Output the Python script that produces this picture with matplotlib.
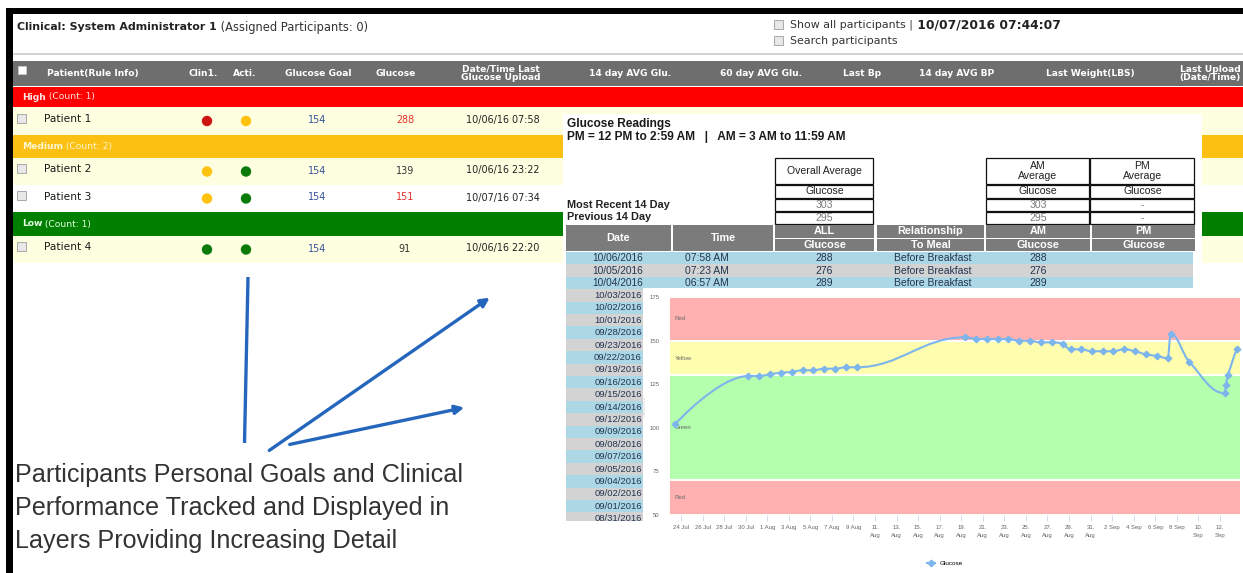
import matplotlib
matplotlib.use("Agg")
import matplotlib.pyplot as plt
import matplotlib.dates as mdates
from matplotlib.patches import Rectangle, Circle, FancyArrowPatch, PathPatch
from matplotlib.path import Path
from matplotlib.lines import Line2D
import pandas as pd

# ---------------- data ----------------
title_bold = "Clinical: System Administrator 1"
title_rest = "(Assigned Participants: 0)"
show_all_text = "Show all participants |"
search_text = "Search participants"
timestamp = "10/07/2016 07:44:07"

col_labels = ["Patient(Rule Info)", "Clin1.", "Acti.", "Glucose Goal", "Glucose",
              "Date/Time Last\nGlucose Upload", "14 day AVG Glu.", "60 day AVG Glu.",
              "Last Bp", "14 day AVG BP", "Last Weight(LBS)", "Last Upload\n(Date/Time)"]
groups = ["High", "Medium", "Low"]
group_counts = [1, 2, 1]
patients = ["Patient 1", "Patient 2", "Patient 3", "Patient 4"]
clin1_status = ["red", "yellow", "yellow", "green"]
acti_status = ["yellow", "green", "green", "green"]
glucose_goal = [154, 154, 154, 154]
glucose_last = [288, 139, 151, 91]
glucose_alert = [True, False, True, False]
last_upload = ["10/06/16 07:58", "10/06/16 23:22", "10/07/16 07:34", "10/06/16 22:20"]

popup_title = "Glucose Readings"
popup_sub = "PM = 12 PM to 2:59 AM   |   AM = 3 AM to 11:59 AM"
summary_rows = ["Most Recent 14 Day", "Previous 14 Day"]
overall_avg = ["303", "295"]
am_avg = ["303", "295"]
pm_avg = ["-", "-"]

reading_dates = ["10/06/2016", "10/05/2016", "10/04/2016", "10/03/2016", "10/02/2016",
                 "10/01/2016", "09/28/2016", "09/23/2016", "09/22/2016", "09/19/2016",
                 "09/16/2016", "09/15/2016", "09/14/2016", "09/12/2016", "09/09/2016",
                 "09/08/2016", "09/07/2016", "09/05/2016", "09/04/2016", "09/02/2016",
                 "09/01/2016", "08/31/2016"]
reading_times = ["07:58 AM", "07:23 AM", "06:57 AM"]
reading_glucose = ["288", "276", "289"]
reading_relation = ["Before Breakfast", "Before Breakfast", "Before Breakfast"]
reading_am = ["288", "276", "289"]

chart_times = ["2016-07-23 10:30", "2016-07-30 06:00", "2016-07-31 06:00", "2016-08-01 06:15",
               "2016-08-02 06:00", "2016-08-03 06:30", "2016-08-04 07:00", "2016-08-05 06:30",
               "2016-08-06 07:00", "2016-08-07 07:00", "2016-08-08 07:30", "2016-08-09 07:10",
               "2016-08-19 08:20", "2016-08-20 08:50", "2016-08-21 08:40", "2016-08-22 09:05",
               "2016-08-23 08:40", "2016-08-24 09:05", "2016-08-25 08:50", "2016-08-26 09:35",
               "2016-08-27 09:20", "2016-08-28 09:50", "2016-08-29 03:35", "2016-08-30 02:25",
               "2016-08-31 02:25", "2016-09-01 02:55", "2016-09-02 02:25", "2016-09-03 02:55",
               "2016-09-04 02:55", "2016-09-05 03:20", "2016-09-06 03:50", "2016-09-07 03:35",
               "2016-09-07 10:20", "2016-09-09 03:35", "2016-09-12 11:00", "2016-09-12 13:25",
               "2016-09-12 17:45", "2016-09-13 13:10"]
chart_glucose = [102.0, 129.7, 129.7, 130.7, 131.6, 132.0, 133.0, 133.0, 133.9, 133.9, 134.7,
                 134.7, 151.9, 150.9, 150.9, 150.9, 150.9, 149.9, 149.9, 149.0, 149.0, 148.1,
                 145.0, 145.0, 143.9, 143.9, 143.9, 145.0, 143.9, 142.1, 141.2, 139.9, 153.8,
                 137.9, 119.8, 124.5, 130.3, 145.0]
band_low = [150, 130, 70, 50]
band_high = [175, 150, 130, 70]
band_names = ["Red", "Yellow", "Green", "Red"]
y_ticks = [50, 75, 100, 125, 150, 175]
x_tick_dates = pd.date_range("2016-07-24", "2016-09-12", freq="2D")
x_tick_labels = ["24 Jul", "26 Jul", "28 Jul", "30 Jul", "1 Aug", "3 Aug", "5 Aug", "7 Aug",
                 "9 Aug", "11.\nAug", "13.\nAug", "15.\nAug", "17.\nAug", "19.\nAug",
                 "21.\nAug", "23.\nAug", "25.\nAug", "27.\nAug", "29.\nAug", "31.\nAug",
                 "2 Sep", "4 Sep", "6 Sep", "8 Sep", "10.\nSep", "12.\nSep"]
x_range = ["2016-07-22 21:20", "2016-09-13 22:50"]
series_name = "Glucose"

caption_lines = ["Participants Personal Goals and Clinical",
                 "Performance Tracked and Displayed in",
                 "Layers Providing Increasing Detail"]

# ---------------- styles ----------------
W, H = 1243, 573
status_colors = {"red": "#cf1212", "yellow": "#ffc30f", "green": "#0a7a0a"}
group_colors = ["#fe0000", "#fcc012", "#007f00"]
group_text = ["#ffe2e2", "#fff6d2", "#e6ffe6"]
row_colors = ["#fefee0", "#fefee0", "#ffffff", "#fefee0"]
band_colors = ["#ffb1b1", "#fffdae", "#b3ffae", "#ffb1b1"]
UI = "DejaVu Sans"
ARIAL = "Liberation Sans"

fig = plt.figure(figsize=(W / 100, H / 100), dpi=100)
ax = fig.add_axes([0, 0, 1, 1])
ax.set_xlim(0, W)
ax.set_ylim(H, 0)
ax.axis("off")


def rect(x0, y0, x1, y1, fc, ec="none", lw=0, z=1):
    ax.add_patch(Rectangle((x0, y0), x1 - x0, y1 - y0, facecolor=fc, edgecolor=ec,
                           linewidth=lw, zorder=z))


def checkbox(x, y, z=3, fc="#e8e8e8"):
    ax.add_patch(Rectangle((x - 4.5, y - 4.5), 9, 9, facecolor=fc, edgecolor="#a8a8a8",
                           linewidth=0.7, zorder=z))


# ---- top bar ----
t = ax.text(17, 27, title_bold, fontsize=7.9, fontweight="bold", family=UI, color="#222222",
            va="center", ha="left")
ax.annotate(" " + title_rest, xycoords=t, xy=(1, 0.5), va="center", fontsize=8.3, family=UI,
            color="#333333")
checkbox(779, 24)
checkbox(779, 40)
t = ax.text(790, 25, show_all_text, fontsize=7.9, family=UI, color="#333333", va="center")
ax.annotate(" " + timestamp, xycoords=t, xy=(1, 0.5), va="center", fontsize=8.8, family=UI,
            fontweight="bold", color="#222222")
ax.text(790, 41, search_text, fontsize=7.9, family=UI, color="#333333", va="center")
rect(13, 52.5, W, 55, "#d4d4d4")

# ---- header ----
rect(13, 61, W, 86, "#6e6e6e")
ax.add_patch(Rectangle((18, 66), 8, 8, facecolor="white", edgecolor="#cccccc", lw=0.5, zorder=3))
col_x = [93, 203, 245, 318, 396, 501, 630, 761, 862, 957, 1090, 1210]
for cx, lab in zip(col_x, col_labels):
    ax.text(cx, 73.5, lab, fontsize=6.6, fontweight="bold", family=UI, color="white",
            ha="center", va="center", linespacing=0.95, zorder=3)

# ---- groups and rows ----
group_spans = [(87, 107), (135, 158), (212, 236)]
row_spans = [(107, 135), (158, 185), (185, 212), (236, 263)]
for gi, (y0, y1) in enumerate(group_spans):
    rect(13, y0, W, y1, group_colors[gi])
    yc = (y0 + y1) / 2
    t = ax.text(22, yc, groups[gi], fontsize=6.6, fontweight="bold", family=UI,
                color=group_text[gi], va="center", zorder=3)
    ax.annotate(f" (Count: {group_counts[gi]})", xycoords=t, xy=(1, 0.5), va="center",
                fontsize=6.6, family=UI, color=group_text[gi], zorder=3)

for i, (y0, y1) in enumerate(row_spans):
    rect(13, y0, W, y1, row_colors[i])
    yc = (y0 + y1) / 2 - 2
    checkbox(22, yc - 1)
    ax.text(44, yc, patients[i], fontsize=7.7, family=UI, color="#1a1a1a", va="center")
    for cx, st in ((207, clin1_status[i]), (246, acti_status[i])):
        ax.add_patch(Circle((cx, yc + 2), 5.2, facecolor=status_colors[st],
                            edgecolor="none", zorder=3))
    ax.text(317, yc + 1, str(glucose_goal[i]), fontsize=6.9, family=UI, color="#35509a",
            ha="center", va="center")
    ax.text(405, yc + 1, str(glucose_last[i]), fontsize=6.9, family=UI,
            color="#e8302a" if glucose_alert[i] else "#333333", ha="center", va="center")
    ax.text(503, yc + 1, last_upload[i], fontsize=6.9, family=UI, color="#222222",
            ha="center", va="center")

# ---- popup ----
rect(563, 114, 1202, 289, "white", z=4)
ax.text(567, 124, popup_title, fontsize=8.6, fontweight="bold", family=ARIAL,
        color="#1a1a1a", va="center", zorder=6)
ax.text(567, 137, popup_sub, fontsize=8.6, fontweight="bold", family=ARIAL,
        color="#1a1a1a", va="center", zorder=6)

box_cols = [(775, 874), (986, 1090), (1090, 1195)]
box_heads = ["Overall Average", "AM\nAverage", "PM\nAverage"]
box_rows = [(157, 184), (184, 198), (198, 211), (211, 224)]
box_vals = [overall_avg, am_avg, pm_avg]
for (x0, x1), head, vals in zip(box_cols, box_heads, box_vals):
    for ri, (y0, y1) in enumerate(box_rows):
        rect(x0 + 0.5, y0 + 0.5, x1 - 0.5, y1 - 0.5, "white", ec="#111111", lw=0.9, z=5)
        if ri == 0:
            txt, col = head, "#222222"
        elif ri == 1:
            txt, col = "Glucose", "#222222"
        else:
            txt, col = vals[ri - 2], "#7a7a7a"
        ax.text((x0 + x1) / 2, (y0 + y1) / 2 + 0.5, txt, fontsize=7.6, family=ARIAL, color=col,
                ha="center", va="center", linespacing=0.9, zorder=6)
for ri, lab in enumerate(summary_rows):
    y0, y1 = box_rows[ri + 2]
    ax.text(567, (y0 + y1) / 2, lab, fontsize=7.8, fontweight="bold", family=ARIAL,
            color="#222222", va="center", zorder=6)

# gray header of readings table
hdr_cols = [(566, 671), (673, 773), (775, 874), (877, 984), (986, 1090), (1092, 1195)]
hdr_top = ["Date", "Time", "ALL", "Relationship", "AM", "PM"]
hdr_bot = [None, None, "Glucose", "To Meal", "Glucose", "Glucose"]
for (x0, x1), t1, t2 in zip(hdr_cols, hdr_top, hdr_bot):
    cxm = (x0 + x1) / 2
    if t2 is None:
        rect(x0, 225, x1, 251, "#7b7b7b", z=5)
        ax.text(cxm, 238, t1, fontsize=7.8, fontweight="bold", family=ARIAL, color="white",
                ha="center", va="center", zorder=6)
    else:
        rect(x0, 225, x1, 237.5, "#7b7b7b", z=5)
        rect(x0, 238.5, x1, 251, "#7b7b7b", z=5)
        ax.text(cxm, 231.5, t1, fontsize=7.8, fontweight="bold", family=ARIAL, color="white",
                ha="center", va="center", zorder=6)
        ax.text(cxm, 245, t2, fontsize=7.8, fontweight="bold", family=ARIAL, color="white",
                ha="center", va="center", zorder=6)

row_h = 12.4
for k, d in enumerate(reading_dates):
    y0 = 252 + row_h * k
    rect(566, y0, 1193, y0 + row_h, "#acd8e6" if k % 2 == 0 else "#d3d3d3", z=5)
    yc = y0 + row_h / 2
    ax.text(618, yc, d, fontsize=7.3 if k < 3 else 6.8, family=ARIAL, color="#24344f",
            ha="center", va="center", zorder=6)
    if k < len(reading_times):
        for cx, val in ((707, reading_times[k]), (824, reading_glucose[k]),
                        (933, reading_relation[k]), (1038, reading_am[k])):
            ax.text(cx, yc, val, fontsize=7.5, family=ARIAL, color="#24344f", ha="center",
                    va="center", zorder=6)

# chart panel covering the list
rect(643, 288, W, H, "white", z=10)
rect(560, 521, 643, H, "white", z=10)

# ---- caption and arrows ----
for i, line in enumerate(caption_lines):
    ax.text(15, 475 + 33 * i, line, fontsize=18.05, family=ARIAL, color="#333333",
            va="center", ha="left", zorder=3)
arrow_col = "#2566bd"
ax.plot([248, 244.5], [277, 443], color=arrow_col, lw=2.4, solid_capstyle="butt", zorder=3)
for (x0, y0), (x1, y1) in (((267, 452), (492, 296)), ((287, 445), (467, 407))):
    ax.add_patch(FancyArrowPatch((x0, y0), (x1, y1), arrowstyle="-|>", mutation_scale=13,
                                 color=arrow_col, lw=2.4, zorder=3))

# ---- black frame ----
rect(6, 8, W, 14, "black", z=20)
rect(6, 8, 13, H, "black", z=20)


# ---------------- glucose chart ----------------
def highcharts_spline(xs, ys, smoothing=1.5):
    n = len(xs)
    denom = smoothing + 1
    left, right = [None] * n, [None] * n
    for i in range(1, n - 1):
        x, y = xs[i], ys[i]
        lx, ly = xs[i - 1], ys[i - 1]
        nx, ny = xs[i + 1], ys[i + 1]
        lcx, lcy = (smoothing * x + lx) / denom, (smoothing * y + ly) / denom
        rcx, rcy = (smoothing * x + nx) / denom, (smoothing * y + ny) / denom
        if rcx != lcx:
            corr = ((rcy - lcy) * (rcx - x)) / (rcx - lcx) + y - rcy
            lcy += corr
            rcy += corr
        if lcy > ly and lcy > y:
            lcy = max(ly, y); rcy = 2 * y - lcy
        elif lcy < ly and lcy < y:
            lcy = min(ly, y); rcy = 2 * y - lcy
        if rcy > ny and rcy > y:
            rcy = max(ny, y); lcy = 2 * y - rcy
        elif rcy < ny and rcy < y:
            rcy = min(ny, y); lcy = 2 * y - rcy
        left[i], right[i] = (lcx, lcy), (rcx, rcy)
    verts, codes = [(xs[0], ys[0])], [Path.MOVETO]
    for i in range(1, n):
        c1 = right[i - 1] or (xs[i - 1], ys[i - 1])
        c2 = left[i] or (xs[i], ys[i])
        verts += [c1, c2, (xs[i], ys[i])]
        codes += [Path.CURVE4] * 3
    return Path(verts, codes)


cax = fig.add_axes([669 / W, 1 - 515 / H, (1241 - 669) / W, (515 - 297) / H])
cax.set_zorder(30)
cax.patch.set_alpha(0)
xnum = mdates.date2num(pd.to_datetime(chart_times))
xl = mdates.date2num(pd.to_datetime(x_range))
cax.set_xlim(xl[0], xl[1])
cax.set_ylim(50, 175)
for lo, hi, nm, col in zip(band_low, band_high, band_names, band_colors):
    cax.axhspan(lo, hi, facecolor=col, edgecolor="white", linewidth=1.4, zorder=1)
    cax.text(xl[0] + 0.55, (lo + hi) / 2, nm, fontsize=4.3, family=ARIAL, color="#666666",
             va="center", ha="left", zorder=2)
line_col = "#7cb5ec"
cax.add_patch(PathPatch(highcharts_spline(list(xnum), list(chart_glucose)), facecolor="none",
                        edgecolor=line_col, lw=1.5, zorder=3))
cax.plot(xnum, chart_glucose, linestyle="none", marker="D", markersize=3.3, color=line_col,
         zorder=4)
for s in cax.spines.values():
    s.set_visible(False)
cax.set_yticks(y_ticks)
cax.set_yticklabels([str(v) for v in y_ticks], fontsize=4.3, family=ARIAL, color="#666666")
cax.tick_params(axis="y", length=0, pad=7)
cax.set_xticks(mdates.date2num(x_tick_dates))
cax.set_xticklabels(x_tick_labels, fontsize=4.3, family=ARIAL, color="#666666",
                    linespacing=1.9, va="top")
cax.tick_params(axis="x", length=4, width=0.6, color="#ccd6eb", pad=3)
cax.set_ylabel(series_name, fontsize=4.3, family=ARIAL, color="#d6d6d6", labelpad=1.5)
cax.legend(handles=[Line2D([0], [0], color=line_col, lw=1.5, marker="D", markersize=3.3)],
           labels=[series_name], loc="center", bbox_to_anchor=(945 / W, 1 - 563 / H),
           bbox_transform=fig.transFigure, frameon=False, handlelength=1.3,
           prop={"family": ARIAL, "size": 4.6})

fig.savefig("out.png", dpi=100)
